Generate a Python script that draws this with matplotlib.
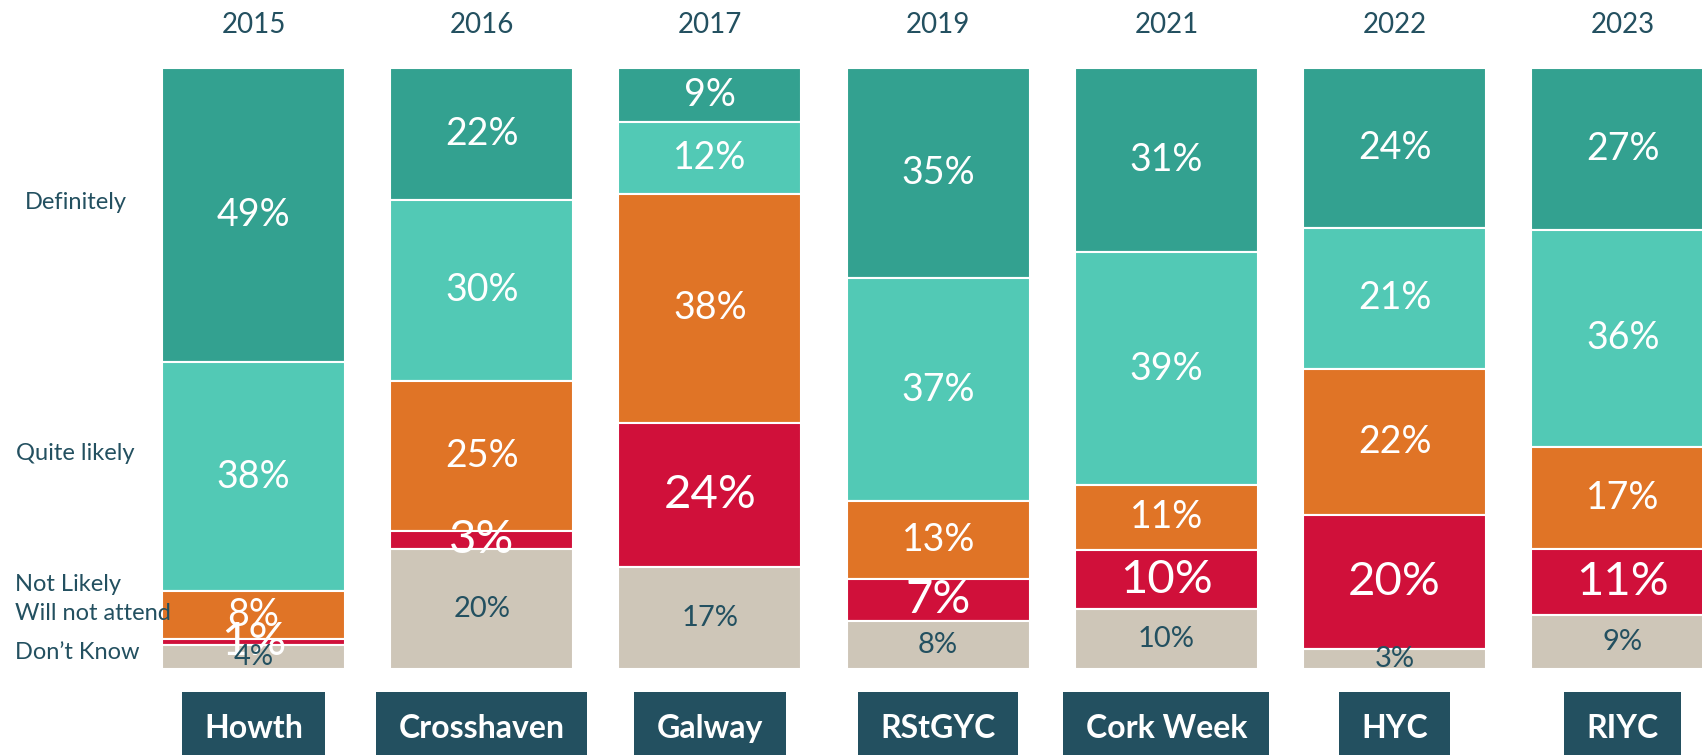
import matplotlib
matplotlib.use("Agg")
import matplotlib.pyplot as plt
from matplotlib.transforms import blended_transform_factory
import numpy as np

plt.rcParams['font.family'] = ['Lato', 'DejaVu Sans']

venues = ["Howth", "Crosshaven", "Galway", "RStGYC", "Cork Week", "HYC", "RIYC"]
years = ["2015", "2016", "2017", "2019", "2021", "2022", "2023"]
categories = ["Definitely", "Quite likely", "Not Likely", "Will not attend", "Don\u2019t Know"]

definitely = [49, 22, 9, 35, 31, 24, 27]
quite_likely = [38, 30, 12, 37, 39, 21, 36]
not_likely = [8, 25, 38, 13, 11, 22, 17]
will_not_attend = [1, 3, 24, 7, 10, 20, 11]
dont_know = [4, 20, 17, 8, 10, 3, 9]

series = [definitely, quite_likely, not_likely, will_not_attend, dont_know]
colors = ["#33A190", "#52C9B5", "#E07426", "#D0103A", "#CEC6B8"]
text_colors = ["white", "white", "white", "white", "#235060"]
text_sizes = [27, 27, 27, 34, 21]
dark = "#235060"

W, H = 1702, 755
fig = plt.figure(figsize=(W / 100, H / 100), dpi=100)
# bars occupy y from 68 px to 669 px (top-down)
ax = fig.add_axes([0, (H - 669) / H, 1, (669 - 68) / H])
ax.set_xlim(-1.111, 6.347)
ax.set_ylim(0, 1)
ax.axis("off")

data = np.array(series, dtype=float)
totals = data.sum(axis=0)
frac = data / totals
x = np.arange(len(venues))
width = 0.802

top = np.ones(len(venues))
for k in range(len(categories)):
    bottom = top - frac[k]
    ax.bar(x, frac[k], width=width, bottom=bottom, color=colors[k],
           edgecolor="white", linewidth=1.5, align="center")
    for i in range(len(venues)):
        ax.text(x[i], bottom[i] + frac[k][i] / 2, f"{int(data[k][i])}%",
                ha="center", va="center", color=text_colors[k],
                fontsize=text_sizes[k], clip_on=False)
    top = bottom

# years on top
for i, yr in enumerate(years):
    ax.text(x[i], 1.0716, yr, ha="center", va="center", color=dark, fontsize=20,
            clip_on=False)

# venue boxes
for i, v in enumerate(venues):
    ax.text(x[i], -0.099, v, ha="center", va="center", color="white",
            fontsize=23, fontweight="bold", clip_on=False,
            bbox=dict(boxstyle="square,pad=0.7", fc=dark, ec="none"))

# left labels
tr = blended_transform_factory(fig.transFigure, ax.transData)
ax.text(76 / W, 0.777, categories[0], transform=tr, ha="center", va="center",
        color=dark, fontsize=17)
ax.text(75 / W, 0.358, categories[1], transform=tr, ha="center", va="center",
        color=dark, fontsize=17)
ax.text(15 / W, 0.140, categories[2], transform=tr, ha="left", va="center",
        color=dark, fontsize=17)
ax.text(15 / W, 0.092, categories[3], transform=tr, ha="left", va="center",
        color=dark, fontsize=17)
ax.text(15 / W, 0.027, categories[4], transform=tr, ha="left", va="center",
        color=dark, fontsize=17)

fig.savefig("out.png", dpi=100, facecolor="white")
